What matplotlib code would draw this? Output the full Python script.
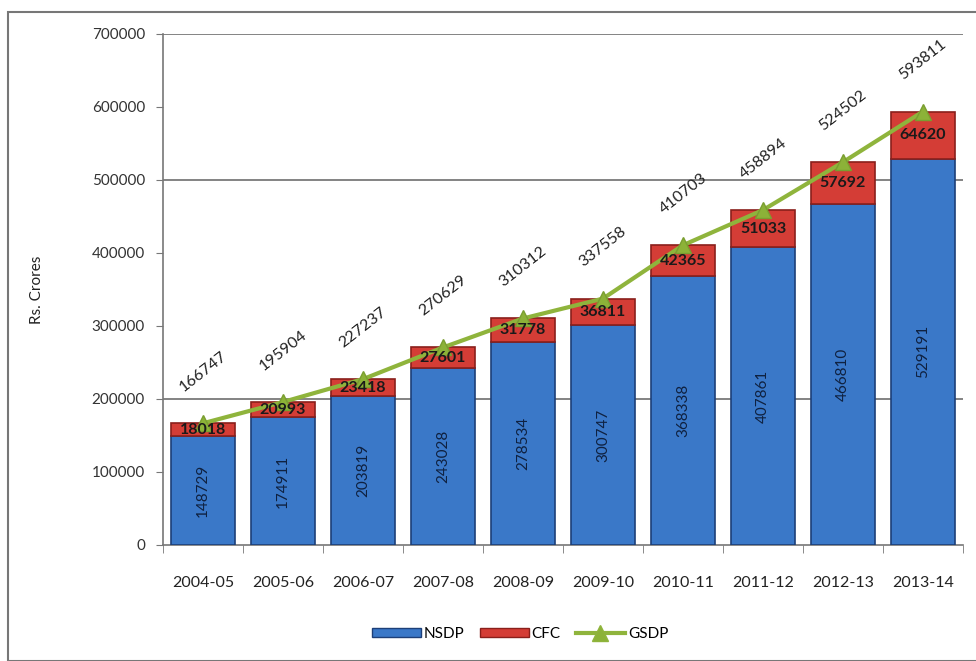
import matplotlib
matplotlib.use("Agg")
import matplotlib.pyplot as plt
from matplotlib.patches import Rectangle
from matplotlib.lines import Line2D

years = ["2004-05", "2005-06", "2006-07", "2007-08", "2008-09",
         "2009-10", "2010-11", "2011-12", "2012-13", "2013-14"]
nsdp = [148729, 174911, 203819, 243028, 278534, 300747, 368338, 407861, 466810, 529191]
cfc = [18018, 20993, 23418, 27601, 31778, 36811, 42365, 51033, 57692, 64620]
gsdp = [166747, 195904, 227237, 270629, 310312, 337558, 410703, 458894, 524502, 593811]
y_ticks = [0, 100000, 200000, 300000, 400000, 500000, 600000, 700000]
grid_levels = [200000, 500000, 700000]

plt.rcParams['font.family'] = ['Lato', 'DejaVu Sans']

fig = plt.figure(figsize=(9.76, 6.61), dpi=100)
fig.patches.append(Rectangle((8/976, 0), 1.2, (661-12)/661, transform=fig.transFigure,
                             fill=False, edgecolor='#777777', linewidth=1.5))
ax = fig.add_axes([163/976, 1-545/661, 800/976, (545-34)/661])

x = list(range(len(years)))
blue = '#3a78c8'
red = '#d43d36'
green = '#8fb43c'

ax.bar(x, nsdp, width=0.8, color=blue, edgecolor='#1d3f78', linewidth=1.2, zorder=3)
ax.bar(x, cfc, bottom=nsdp, width=0.8, color=red, edgecolor='#8a1f1b', linewidth=1.2, zorder=3)
ax.plot(x, gsdp, color=green, linewidth=3, marker='^', markersize=12,
        markerfacecolor='#8cb238', markeredgecolor='#7a9e30', zorder=5)

for i in x:
    ax.text(i, nsdp[i]/2, str(nsdp[i]), rotation=90, ha='center', va='center',
            fontsize=11, color='#0f2140', zorder=6)
    ax.text(i, nsdp[i] + cfc[i]/2, str(cfc[i]), ha='center', va='center',
            fontsize=11.5, fontweight='bold', color='#1a1a1a', zorder=6)
    ax.annotate(str(gsdp[i]), (i, gsdp[i]), xytext=(0, 37), textcoords='offset points',
                rotation=38, ha='center', va='center', fontsize=11.5, color='#222222',
                zorder=6)

ax.set_xlim(-0.5, 9.5)
ax.set_ylim(0, 700000)
ax.set_yticks(y_ticks)
ax.set_yticklabels([str(v) for v in y_ticks], fontsize=11, color='#333333')
for g in grid_levels:
    ax.axhline(g, color='#6e6e6e', linewidth=1.2, zorder=1)

ax.set_xticks(x)
ax.set_xticklabels(years, fontsize=11.5, color='#222222')
ax.tick_params(axis='x', length=0, pad=22)
ax.set_xticks([i + 0.5 for i in range(-1, 10)], minor=True)
ax.tick_params(axis='x', which='minor', length=6, color='#777777', direction='out')
ax.tick_params(axis='y', length=5, color='#777777', pad=8)

for s in ['top', 'right']:
    ax.spines[s].set_visible(False)
ax.spines['left'].set_color('#777777')
ax.spines['bottom'].set_color('#777777')
ax.spines['left'].set_linewidth(1.2)
ax.spines['bottom'].set_linewidth(1.2)

ax.set_ylabel('Rs. Crores', fontsize=11, color='#222222', labelpad=34)

handles = [Rectangle((0, 0), 1, 1, facecolor=blue, edgecolor='#1d3f78'),
           Rectangle((0, 0), 1, 1, facecolor=red, edgecolor='#8a1f1b'),
           Line2D([0], [0], color=green, linewidth=3, marker='^', markersize=11,
                  markerfacecolor='#8cb238')]
fig.legend(handles, ['NSDP', 'CFC', 'GSDP'], loc='center', bbox_to_anchor=(520/976, 1-634/661),
           ncol=3, frameon=False, fontsize=11, handlelength=3.2, handleheight=0.6,
           handletextpad=0.2, columnspacing=1.0)

fig.savefig('out.png', dpi=100)
